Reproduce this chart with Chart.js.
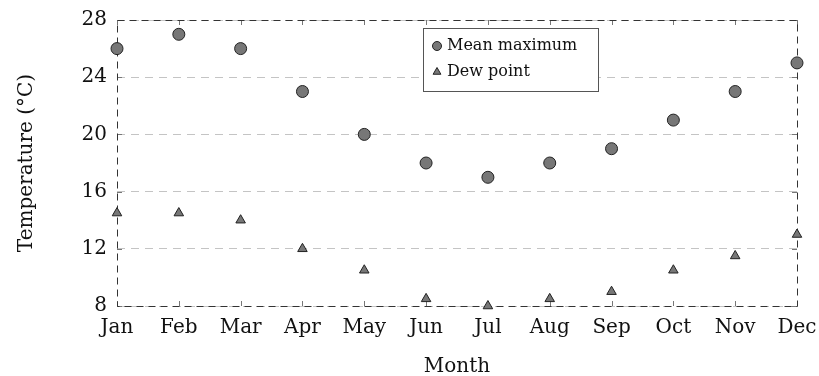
<!DOCTYPE html>
<html>
<head>
<meta charset="utf-8">
<script src="https://cdn.jsdelivr.net/npm/chart.js@4/dist/chart.umd.min.js"></script>
<style>
  html, body { margin: 0; padding: 0; background: #fff; }
  #wrap { width: 819px; height: 376px; }
</style>
</head>
<body>
<div id="wrap"><canvas id="tempChart" width="819" height="376"></canvas></div>
<script>
// data
const months = ['Jan', 'Feb', 'Mar', 'Apr', 'May', 'Jun', 'Jul', 'Aug', 'Sep', 'Oct', 'Nov', 'Dec'];
const meanMax = [26, 27, 26, 23, 20, 18, 17, 18, 19, 21, 23, 25];
const dewPoint = [14.5, 14.5, 14, 12, 10.5, 8.5, 8, 8.5, 9, 10.5, 11.5, 13];
const yTicks = [8, 12, 16, 20, 24, 28];

const FONT = "'DejaVu Serif', 'Liberation Serif', serif";

// dashed frame + small inward ticks
const framePlugin = {
  id: 'frame',
  beforeDatasetsDraw(chart) {
    const { ctx, chartArea: a, scales } = chart;
    ctx.save();
    ctx.strokeStyle = '#777';
    ctx.lineWidth = 1;
    ctx.beginPath();
    months.forEach((m, i) => {
      const x = Math.round(scales.x.getPixelForValue(i)) + 0.5;
      ctx.moveTo(x, a.top); ctx.lineTo(x, a.top + 5);
      ctx.moveTo(x, a.bottom); ctx.lineTo(x, a.bottom - 5);
    });
    yTicks.forEach(v => {
      const y = Math.round(scales.y.getPixelForValue(v)) + 0.5;
      ctx.moveTo(a.left, y); ctx.lineTo(a.left + 5, y);
      ctx.moveTo(a.right, y); ctx.lineTo(a.right - 5, y);
    });
    ctx.stroke();
    ctx.strokeStyle = '#333';
    ctx.setLineDash([7, 5]);
    ctx.strokeRect(Math.round(a.left) + 0.5, Math.round(a.top) + 0.5,
      Math.round(a.right - a.left), Math.round(a.bottom - a.top));
    ctx.restore();
  }
};

// legend box inside the plot
const boxLegend = {
  id: 'boxLegend',
  afterDraw(chart) {
    const { ctx } = chart;
    const x0 = 423, y0 = 28, w = 175, h = 63;
    ctx.save();
    ctx.fillStyle = '#fff';
    ctx.fillRect(x0, y0, w, h);
    ctx.strokeStyle = '#555';
    ctx.lineWidth = 1;
    ctx.strokeRect(x0 + 0.5, y0 + 0.5, w, h);
    ctx.font = '16px ' + FONT;
    ctx.textBaseline = 'middle';
    chart.data.datasets.forEach((ds, i) => {
      const cy = y0 + 18 + i * 26;
      ctx.fillStyle = ds.backgroundColor;
      ctx.strokeStyle = ds.borderColor;
      ctx.lineWidth = 1;
      Chart.helpers.drawPoint(ctx, {
        pointStyle: ds.pointStyle, radius: 4.5, borderWidth: 1, rotation: 0
      }, x0 + 14, cy);
      ctx.fillStyle = '#111';
      ctx.fillText(ds.label, x0 + 24, cy);
    });
    ctx.restore();
  }
};

window.onload = function () {
  const ctx = document.getElementById('tempChart');
  Chart.defaults.font.family = FONT;
  Chart.defaults.color = '#111';

  new Chart(ctx, {
    type: 'scatter',
    data: {
      labels: months,
      datasets: [
        {
          label: 'Mean maximum',
          data: meanMax,
          pointStyle: 'circle',
          pointRadius: 6,
          backgroundColor: '#777',
          borderColor: '#222',
          borderWidth: 1,
          showLine: false
        },
        {
          label: 'Dew point',
          data: dewPoint,
          pointStyle: 'triangle',
          pointRadius: 5.5,
          backgroundColor: '#777',
          borderColor: '#222',
          borderWidth: 1,
          showLine: false
        }
      ]
    },
    options: {
      responsive: false,
      animation: false,
      clip: false,
      layout: { padding: { top: 20, right: 22, left: 0, bottom: 0 } },
      plugins: {
        legend: { display: false },
        tooltip: { enabled: false }
      },
      scales: {
        x: {
          type: 'category',
          offset: false,
          grid: { display: false, drawTicks: false },
          border: { display: false },
          ticks: { font: { size: 20 }, padding: 10, maxRotation: 0, autoSkip: false },
          title: { display: true, text: 'Month', font: { size: 20 }, padding: { top: 8, bottom: -3 } },
          afterFit(s) { s.height = 70; s.paddingLeft = 0; s.paddingRight = 0; }
        },
        y: {
          min: 8,
          max: 28,
          afterBuildTicks(s) { s.ticks = yTicks.map(v => ({ value: v })); },
          grid: { color: '#c4c4c4', drawTicks: false },
          border: { display: false, dash: [8, 6] },
          ticks: { font: { size: 20 }, padding: 10 },
          title: { display: true, text: 'Temperature (°C)', font: { size: 20 }, padding: { top: 15, bottom: 0 } },
          afterFit(s) { s.width = 117; s.paddingTop = 0; s.paddingBottom = 0; }
        }
      }
    },
    plugins: [framePlugin, boxLegend]
  });
};
</script>
</body>
</html>
